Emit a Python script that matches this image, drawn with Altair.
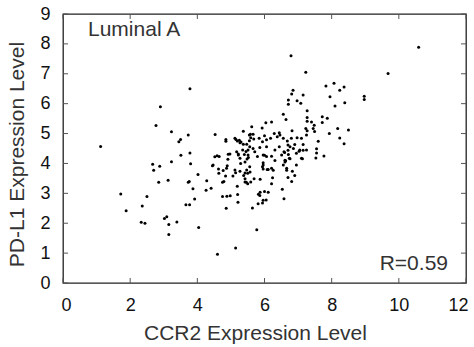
import altair as alt
import pandas as pd

# CCR2 (x) and PD-L1 (y) expression levels
ccr2 = [
    1.12, 1.72, 1.88, 2.33, 2.44, 2.36, 2.50, 2.67, 2.70, 2.88, 2.85, 2.77, 2.90,
    3.02, 3.09, 3.15, 3.15, 3.13, 3.23, 3.23, 3.39, 3.45, 3.50, 3.51, 3.66, 3.77,
    3.73, 3.76, 3.78, 3.80, 3.73, 3.78, 3.87, 3.92, 4.02, 4.04, 4.26, 4.28, 4.41,
    4.45, 4.52, 4.59, 4.60, 4.64, 4.63, 4.75, 4.79, 4.77, 4.75, 4.88, 4.98, 4.84,
    4.86, 4.89, 4.92, 4.97, 4.91, 4.53, 4.85, 4.85, 5.06, 5.14, 5.14, 5.19, 5.20,
    5.21, 5.22, 5.27, 5.38, 5.42, 5.46, 5.42, 5.42, 5.50, 5.57, 5.50, 5.59, 5.64,
    5.69, 5.77, 5.82, 5.87, 5.86, 5.87, 5.94, 5.81, 5.96, 5.96, 5.94, 6.05, 6.11,
    6.00, 6.11, 6.26, 6.21, 6.00, 6.21, 6.31, 6.53, 6.58, 6.66, 6.83, 6.90, 6.70,
    6.81, 6.76, 6.61, 6.61, 6.70, 6.60, 6.70, 6.90, 7.15, 7.15, 7.03, 7.13, 7.55,
    7.55, 7.53, 7.60, 7.77, 8.24, 8.37, 7.93, 8.18, 8.50, 6.82, 7.27, 7.49, 7.72,
    7.87, 7.72, 7.27, 7.27, 7.27, 7.40, 7.48, 7.45, 6.56, 6.64, 6.71, 6.71, 6.85,
    6.81, 6.97, 7.08, 7.15, 6.79, 7.23, 7.83, 8.07, 8.24, 8.37, 7.95, 8.39, 8.10,
    8.97, 8.97, 9.68, 10.59, 5.37, 5.62, 5.58, 5.66, 5.93, 6.04, 6.21, 6.29, 6.00,
    6.44, 7.23, 5.12, 5.19, 5.27, 5.37, 5.55, 5.59, 5.68, 5.55, 5.84, 5.94, 6.06,
    6.18, 6.38, 6.46, 6.56, 6.68, 6.80, 6.97, 7.10, 7.25, 5.47, 5.56, 5.66, 5.51,
    5.71, 5.86, 6.06, 6.31, 6.44, 6.58, 6.76, 6.86, 7.05, 7.25, 5.17, 5.22, 4.65,
    5.27, 5.51, 5.79, 5.96, 6.06, 6.51, 6.71, 6.74, 6.95, 7.10, 4.47, 4.87, 5.12,
    5.29, 5.47, 5.56, 5.96, 5.96, 6.21, 6.56, 6.66, 6.95, 5.35, 5.40, 5.45, 5.48,
    5.42, 5.52, 5.15, 5.25, 5.30, 6.24, 6.08, 6.63,
]
pdl1 = [
    4.57, 2.98, 2.42, 2.03, 2.00, 2.58, 2.89, 3.97, 3.77, 3.91, 3.37, 5.27, 5.90,
    2.16, 2.22, 1.96, 1.62, 3.44, 4.06, 5.06, 2.04, 4.73, 4.80, 4.27, 2.62, 2.62,
    3.37, 3.40, 4.35, 3.99, 4.95, 6.50, 3.15, 2.81, 3.63, 1.86, 3.10, 3.42, 3.17,
    3.92, 4.22, 4.26, 0.96, 3.67, 3.81, 3.37, 3.40, 3.76, 2.89, 2.90, 2.92, 3.58,
    2.50, 3.92, 4.31, 4.32, 4.14, 4.97, 4.80, 4.74, 3.58, 1.17, 3.69, 3.24, 2.96,
    2.70, 4.32, 3.74, 3.60, 3.38, 3.37, 3.68, 3.49, 3.67, 3.71, 3.32, 3.38, 2.51,
    3.49, 1.78, 2.97, 3.04, 2.93, 3.47, 2.68, 2.65, 2.77, 4.02, 3.89, 2.78, 3.04,
    3.06, 3.80, 3.77, 3.32, 4.27, 4.24, 4.10, 3.14, 2.82, 3.77, 3.74, 3.60, 3.53,
    3.40, 4.16, 4.11, 4.05, 4.44, 4.37, 4.62, 4.63, 4.63, 4.44, 4.41, 4.16, 4.49,
    4.35, 4.18, 4.74, 4.25, 4.85, 4.66, 5.00, 5.17, 5.12, 5.09, 5.09, 5.07, 5.56,
    5.51, 5.37, 5.76, 5.54, 5.41, 5.39, 5.28, 5.17, 5.65, 5.47, 6.12, 5.98, 6.45,
    6.32, 6.10, 6.01, 6.29, 7.60, 7.05, 6.59, 6.68, 6.45, 6.56, 6.23, 6.03, 5.92,
    6.25, 6.14, 7.01, 7.89, 5.08, 5.23, 4.98, 4.98, 5.19, 5.36, 5.39, 5.00, 4.93,
    5.03, 5.17, 4.84, 4.75, 4.69, 4.64, 4.95, 4.86, 4.82, 4.76, 4.84, 4.73, 4.79,
    4.84, 4.89, 4.95, 4.84, 4.75, 4.84, 4.86, 4.84, 4.95, 4.64, 4.56, 4.50, 4.45,
    4.39, 4.53, 4.56, 4.45, 4.56, 4.39, 4.56, 4.50, 4.45, 4.45, 4.39, 4.28, 4.23,
    4.17, 4.28, 4.23, 4.28, 4.23, 4.28, 4.30, 4.17, 4.34, 4.17, 3.95, 3.84, 3.78,
    4.00, 3.78, 3.89, 3.95, 3.81, 3.84, 3.95, 3.84, 3.95, 4.45, 4.30, 4.40, 4.15,
    4.05, 4.20, 4.80, 4.78, 4.72, 3.52, 3.80, 4.09,
]
x_ticks = [0, 2, 4, 6, 8, 10, 12]
y_ticks = [0, 1, 2, 3, 4, 5, 6, 7, 8, 9]
panel_label = ["Luminal A"]
r_label = ["R=0.59"]

W, H = 403, 269
FONT = "Liberation Sans"

df = pd.DataFrame({"CCR2": ccr2, "PDL1": pdl1})
xs = alt.Scale(domain=[0, 12], nice=False, zero=False)
ys = alt.Scale(domain=[0, 9], nice=False, zero=False)

x_axis = alt.Axis(values=x_ticks, tickCount=len(x_ticks), ticks=False, domain=False,
                  grid=False, labelOverlap=False, labelFlush=True, labelFlushOffset=2,
                  labelPadding=13, titlePadding=8, titleX=192, format="d")
y_axis = alt.Axis(values=y_ticks, tickCount=len(y_ticks), ticks=False, domain=False,
                  grid=False, labelOverlap=False, labelFlush=False,
                  labelPadding=13, titlePadding=12, titleY=140, format="d")
X_TITLE = "CCR2 Expression Level"
Y_TITLE = "PD-L1 Expression Level"

points = alt.Chart(df).mark_circle(size=9, color="black", opacity=1).encode(
    x=alt.X("CCR2:Q", scale=xs, title=X_TITLE, axis=x_axis),
    y=alt.Y("PDL1:Q", scale=ys, title=Y_TITLE, axis=y_axis),
)

xt = pd.DataFrame({"CCR2": x_ticks})
yt = pd.DataFrame({"PDL1": y_ticks})
TICK = dict(color="#555", strokeWidth=1)
x_bottom = alt.Chart(xt).mark_rule(**TICK).encode(
    x=alt.X("CCR2:Q", scale=xs, title=X_TITLE, axis=x_axis),
    y=alt.value(H), y2=alt.value(H - 5))
x_top = alt.Chart(xt).mark_rule(**TICK).encode(
    x=alt.X("CCR2:Q", scale=xs, title=X_TITLE, axis=x_axis),
    y=alt.value(0), y2=alt.value(5))
y_left = alt.Chart(yt).mark_rule(**TICK).encode(
    y=alt.Y("PDL1:Q", scale=ys, title=Y_TITLE, axis=y_axis),
    x=alt.value(0), x2=alt.value(5))
y_right = alt.Chart(yt).mark_rule(**TICK).encode(
    y=alt.Y("PDL1:Q", scale=ys, title=Y_TITLE, axis=y_axis),
    x=alt.value(W), x2=alt.value(W - 5))

txt1 = alt.Chart(pd.DataFrame({"s": panel_label})).mark_text(
    align="left", baseline="alphabetic", fontSize=21, font=FONT, color="#333").encode(
    text="s:N", x=alt.value(25), y=alt.value(22))
txt2 = alt.Chart(pd.DataFrame({"s": r_label})).mark_text(
    align="right", baseline="alphabetic", fontSize=21, font=FONT, color="#333").encode(
    text="s:N", x=alt.value(W - 18), y=alt.value(256))

chart = alt.layer(points, x_bottom, x_top, y_left, y_right, txt1, txt2).properties(
    width=W, height=H,
    autosize=alt.AutoSizeParams(type="none"),
    padding={"left": 63, "top": 14, "right": 8, "bottom": 64},
    background="white",
).configure_view(
    stroke="#222", strokeWidth=1.3
).configure_axis(
    labelFontSize=18, titleFontSize=21, labelFont=FONT, titleFont=FONT,
    labelColor="#111", titleColor="#333", titleFontWeight="normal",
    labelOverlap=False,
)

chart.save("out.html", embed_options={"renderer": "svg", "actions": False})
